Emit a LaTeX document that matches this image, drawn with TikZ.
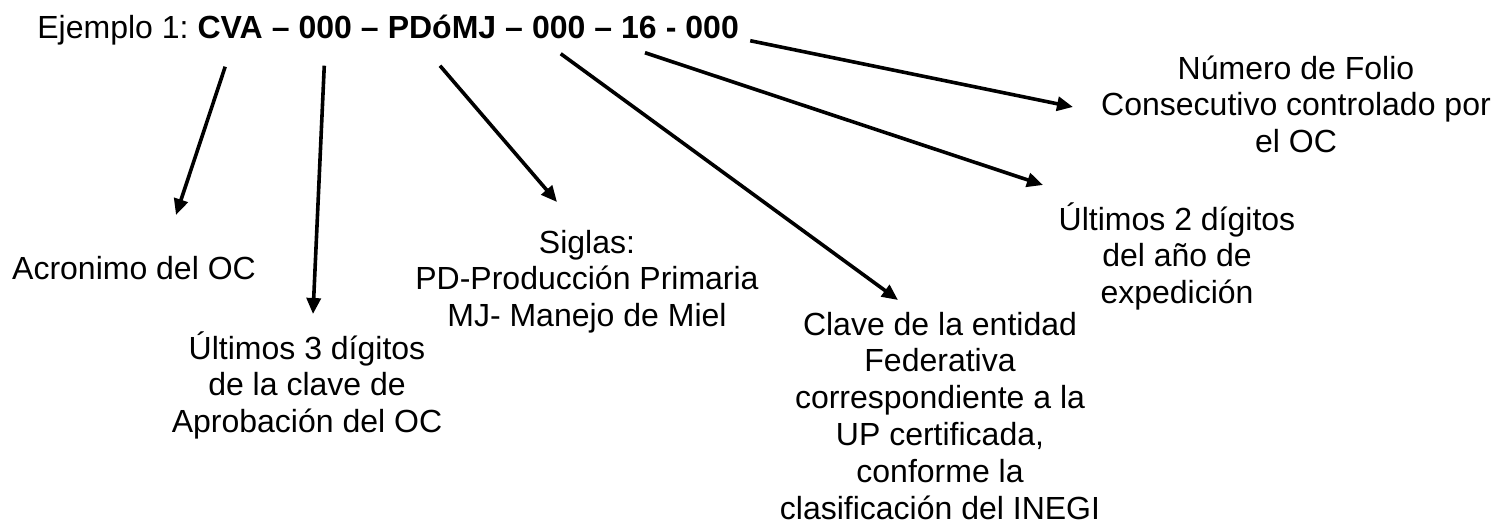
\documentclass[tikz,border=0pt]{standalone}
\usepackage{fontspec}
\setmainfont{Liberation Sans}
\usetikzlibrary{arrows.meta,positioning}
\tikzset{
  lbl/.style={align=center, inner sep=0pt, anchor=base, font=\fontsize{16}{18.4}\selectfont},
  part/.style={inner sep=0pt, font=\fontsize{16}{18.4}\selectfont\bfseries},
  codearrow/.style={line width=1.8pt, -{Triangle[length=8pt,width=7pt]}}
}
\begin{document}
\begin{tikzpicture}[x=0.5pt, y=-0.5pt, node distance=4.1pt]
\useasboundingbox (0,0) rectangle (1494,525);
% code line
\node[part, font=\fontsize{16}{18.4}\selectfont, anchor=base west] (ej) at (37,38) {Ejemplo 1:};
\node[part, base right=of ej] (cva) {CVA};
\node[part, base right=of cva] (s1) {–};
\node[part, base right=of s1] (apr) {000};
\node[part, base right=of apr] (s2) {–};
\node[part, base right=of s2] (sig) {PDóMJ};
\node[part, base right=of sig] (s3) {–};
\node[part, base right=of s3] (ent) {000};
\node[part, base right=of ent] (s4) {–};
\node[part, base right=of s4] (yr) {16};
\node[part, base right=of yr] (s5) {-};
\node[part, base right=of s5] (fol) {000};
% meanings (base = last line)
\node[lbl] (acro) at (134,279) {Acronimo del OC};
\node[lbl] (dig3) at (307,432.6) {Últimos 3 dígitos\\de la clave de\\Aprobación del OC};
\node[lbl] (siglas) at (587,326.6) {Siglas:\\PD-Producción Primaria\\MJ- Manejo de Miel};
\node[lbl] (clave) at (940,519) {Clave de la entidad\\Federativa\\correspondiente a la\\UP certificada,\\conforme la\\clasificación del INEGI};
\node[lbl] (anio) at (1177,303.6) {Últimos 2 dígitos\\del año de\\expedición};
\node[lbl] (folio) at (1296,152.6) {Número de Folio\\Consecutivo controlado por\\el OC};
% arrow tips
\coordinate (tipA) at (176,215);
\coordinate (tipB) at (313,314);
\coordinate (tipC) at (557,202);
\coordinate (tipD) at (898,300);
\coordinate (tipE) at (1043,185);
\coordinate (tipF) at (1073,107);
\draw[codearrow] ([shift={(-5,28)}]cva.south) -- (tipA);
\draw[codearrow] ([shift={(-1,27)}]apr.south) -- (tipB);
\draw[codearrow] ([shift={(-2,27)}]sig.south) -- (tipC);
\draw[codearrow] ([shift={(2,15)}]ent.south) -- (tipD);
\draw[codearrow] ([shift={(6,14)}]yr.south) -- (tipE);
\draw[codearrow] ([shift={(11,2)}]fol.south east) -- (tipF);
\end{tikzpicture}
\end{document}
